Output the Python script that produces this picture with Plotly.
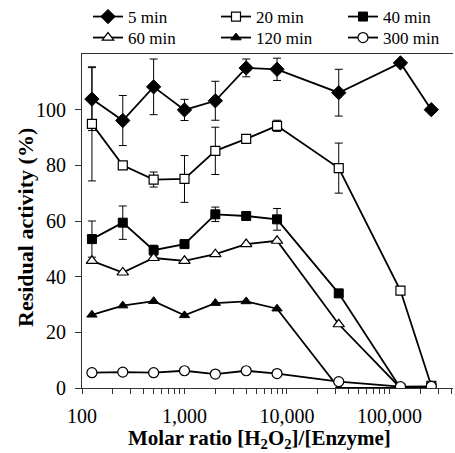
import plotly.graph_objects as go

ratio = [125, 250, 500, 1000, 2000, 4000, 8000, 32000, 128000, 256000]

act_5 = [103.8, 96.1, 108.2, 99.9, 103.2, 115.0, 114.5, 106.1, 116.8, 100.0]
err_5 = [11.3, 9.0, 10.0, 3.8, 7.0, 3.2, 4.0, 8.4, 0, 0]
act_20 = [94.9, 80.0, 74.9, 75.1, 85.2, 89.5, 94.2, 79.0, 35.0, 0.8]
err_20 = [20.5, 0, 2.7, 8.4, 8.5, 0, 2.0, 9.0, 0, 1.5]
act_40 = [53.5, 59.4, 49.5, 51.7, 62.4, 61.8, 60.6, 34.0, 0.0, 0.0]
err_40 = [6.5, 6.0, 1.8, 0, 2.6, 0, 3.9, 0, 0, 0]
act_60 = [45.7, 41.5, 46.7, 45.7, 48.1, 51.7, 52.9, 22.9, 0.0, 0.0]
act_120 = [26.3, 29.6, 31.2, 26.1, 30.5, 31.1, 28.5, 0.0, 0.0, 0.0]
act_300 = [5.5, 5.7, 5.5, 6.2, 5.0, 6.2, 5.2, 2.3, 0.5, 0.6]

series_names = ["5 min", "20 min", "40 min", "60 min", "120 min", "300 min"]

x_tickvals = [100, 1000, 10000, 100000]
x_ticktext = ["100", "1,000", "10,000", "100,000"]
x_minor_vals = [m * 10 ** e for e in range(2, 6) for m in range(2, 10)]
y_tickvals = [0, 20, 40, 60, 80, 100]

x_title = "<b>Molar ratio [H<sub>2</sub>O<sub>2</sub>]/[Enzyme]</b>"
y_title = "<b>Residual activity (%)</b>"

FONT = "Liberation Serif, Times New Roman, serif"
W, H = 455, 453

styles = [
    dict(symbol="diamond", size=11, color="black", line=dict(color="black", width=1)),
    dict(symbol="square", size=9, color="white", line=dict(color="black", width=1.2)),
    dict(symbol="square", size=9, color="black", line=dict(color="black", width=1)),
    dict(symbol="triangle-up", size=10, color="white", line=dict(color="black", width=1.2)),
    dict(symbol="triangle-up", size=9, color="black", line=dict(color="black", width=1)),
    dict(symbol="circle", size=10, color="white", line=dict(color="black", width=1.2)),
]
values = [act_5, act_20, act_40, act_60, act_120, act_300]
errors = [err_5, err_20, err_40, None, None, None]
legend_ids = ["legend", "legend2", "legend3", "legend4", "legend5", "legend6"]
# legend entry anchor (left edge px, row centre px) in a 3 x 2 grid
leg_x = [88, 216, 343, 88, 216, 343]
leg_y = [17, 17, 17, 38, 38, 38]

fig = go.Figure()
for name, vals, err, st, lg in zip(series_names, values, errors, styles, legend_ids):
    kw = {}
    if err is not None:
        kw["error_y"] = dict(type="data", array=err, visible=True, color="black",
                             thickness=1, width=4)
    fig.add_trace(go.Scatter(
        x=ratio, y=vals, name=name, mode="lines+markers",
        line=dict(color="black", width=1.8),
        marker=st, legend=lg, **kw))

legends = {}
for lg, lx, ly in zip(legend_ids, leg_x, leg_y):
    legends[lg] = dict(orientation="v", xref="container", yref="container",
                       x=lx / W, y=1 - ly / H, xanchor="left", yanchor="middle",
                       font=dict(family=FONT, size=17, color="black"),
                       itemwidth=30, bgcolor="rgba(0,0,0,0)", borderwidth=0)

fig.update_layout(
    width=W, height=H,
    margin=dict(l=82, r=2, t=54, b=65, autoexpand=False),
    paper_bgcolor="white", plot_bgcolor="white",
    font=dict(family=FONT, size=18, color="black"),
    showlegend=True,
    **legends,
    xaxis=dict(type="log", range=[2, 5.62],
               tickvals=x_tickvals, ticktext=x_ticktext,
               ticks="outside", ticklen=5, tickcolor="#333", tickwidth=1,
               minor=dict(tickvals=x_minor_vals, ticks="outside", ticklen=5,
                          tickcolor="#333", tickwidth=1, showgrid=False),
               showline=True, linecolor="#333", linewidth=1, mirror=True,
               showgrid=False, zeroline=False, ticklabelstandoff=5,
               tickfont=dict(family=FONT, size=20)),
    yaxis=dict(range=[0, 120], tickvals=y_tickvals,
               ticks="outside", ticklen=6, tickcolor="#333", tickwidth=1,
               showline=True, linecolor="#333", linewidth=1,
               showgrid=False, zeroline=False, ticklabelstandoff=5,
               tickfont=dict(family=FONT, size=20)),
    annotations=[
        dict(text=x_title, xref="paper", yref="paper",
             x=(259 - 82) / 371, y=-(439 - 388) / 334,
             xanchor="center", yanchor="middle", showarrow=False,
             font=dict(family=FONT, size=21, color="black")),
        dict(text=y_title, xref="paper", yref="paper", textangle=-90,
             x=(25 - 82) / 371, y=(388 - 228) / 334,
             xanchor="center", yanchor="middle", showarrow=False,
             font=dict(family=FONT, size=22, color="black")),
    ],
)

fig.write_html("out.html", config={"displayModeBar": False},
               post_script="document.body.style.margin='0px';")
